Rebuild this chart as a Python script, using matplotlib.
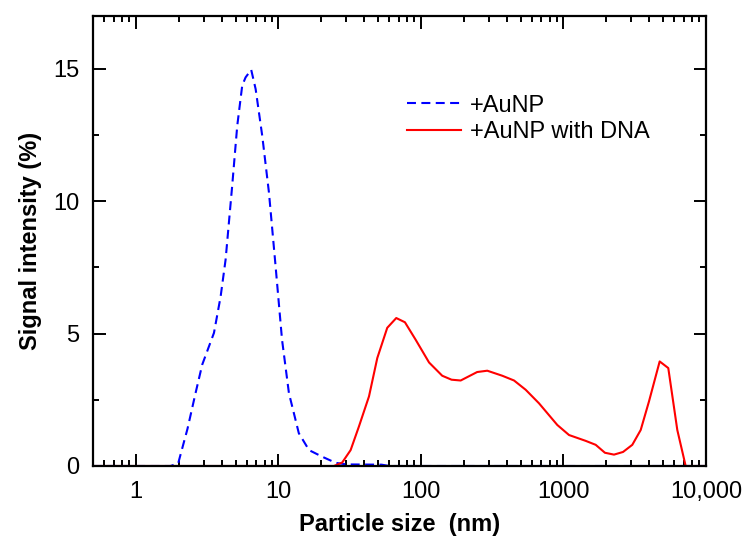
import numpy as np
import matplotlib
matplotlib.use("Agg")
import matplotlib.pyplot as plt
from matplotlib.ticker import MultipleLocator, LogLocator, FixedLocator, NullFormatter

plt.rcParams['font.family'] = ['Liberation Sans', 'DejaVu Sans']

# +AuNP (dashed blue)
size_aunp = [0.5, 1.75, 1.98, 2.3, 2.62, 2.92, 3.53, 3.93, 4.26, 4.74, 5.14, 5.57, 5.88,
             6.44, 6.92, 7.7, 8.58, 9.55, 10.6, 11.85, 13.9, 16.4, 20.3, 25.2, 30, 53, 60, 10000]
sig_aunp = [0, 0, 0.1, 1.4, 2.75, 3.83, 5.03, 6.4, 7.8, 10.6, 12.85, 14.37, 14.68,
            14.97, 14.24, 12.47, 10.33, 7.55, 4.77, 2.75, 1.24, 0.6, 0.35, 0.12, 0.06, 0.05, 0, 0]

# +AuNP with DNA (solid red)
size_dna = [0.5, 24.5, 28, 32.1, 36.7, 43.2, 49.4, 58, 67.1, 77.2, 91.8, 114, 141, 164, 190,
            248, 292, 372, 450, 543, 673, 905, 1094, 1431, 1683, 1954, 2262, 2617, 3040,
            3482, 3981, 4731, 5437, 6290, 7200, 10000]
sig_dna = [0, 0, 0.13, 0.6, 1.49, 2.63, 4.08, 5.22, 5.59, 5.43, 4.77, 3.91, 3.41, 3.26, 3.23,
           3.55, 3.6, 3.41, 3.23, 2.88, 2.37, 1.55, 1.17, 0.95, 0.8, 0.5, 0.43, 0.53, 0.8,
           1.36, 2.44, 3.95, 3.7, 1.36, 0, 0]

xticks = [1, 10, 100, 1000, 10000]
xticklabels = ['1', '10', '100', '1000', '10,000']
yticks = [0, 5, 10, 15]

fig = plt.figure(figsize=(7.45, 5.38), dpi=100)
ax = fig.add_axes([93 / 745, 72 / 538, 613 / 745, 450 / 538])

ax.plot(size_aunp, sig_aunp, color='#0000FF', lw=1.5, dashes=(4.3, 2.6), label='+AuNP')
ax.plot(size_dna, sig_dna, color='#FF0000', lw=1.5, label='+AuNP with DNA')

ax.set_xscale('log')
ax.set_xlim(0.5, 10000)
ax.set_ylim(0, 17)

ax.xaxis.set_major_locator(FixedLocator(xticks))
ax.set_xticklabels(xticklabels)
ax.xaxis.set_minor_locator(LogLocator(base=10, subs=np.arange(2, 10), numticks=20))
ax.xaxis.set_minor_formatter(NullFormatter())
ax.set_yticks(yticks)
ax.yaxis.set_minor_locator(MultipleLocator(2.5))

ax.tick_params(which='both', direction='in', top=True, right=True, width=1.4,
               labelsize=17)
ax.tick_params(axis='x', pad=11)
ax.tick_params(axis='y', pad=10)
ax.tick_params(which='major', length=9)
ax.tick_params(which='minor', length=4.5)
for s in ax.spines.values():
    s.set_linewidth(1.6)

ax.set_xlabel('Particle size  (nm)', fontsize=17, fontweight='bold', labelpad=7)
ax.set_ylabel('Signal intensity (%)', fontsize=17, fontweight='bold', labelpad=8)

ax.legend(loc='upper left', bbox_to_anchor=(0.497, 0.846), borderaxespad=0, frameon=False,
          fontsize=17, handlelength=2.3, handletextpad=0.35, labelspacing=0.2)

fig.savefig('out.png', dpi=100)
